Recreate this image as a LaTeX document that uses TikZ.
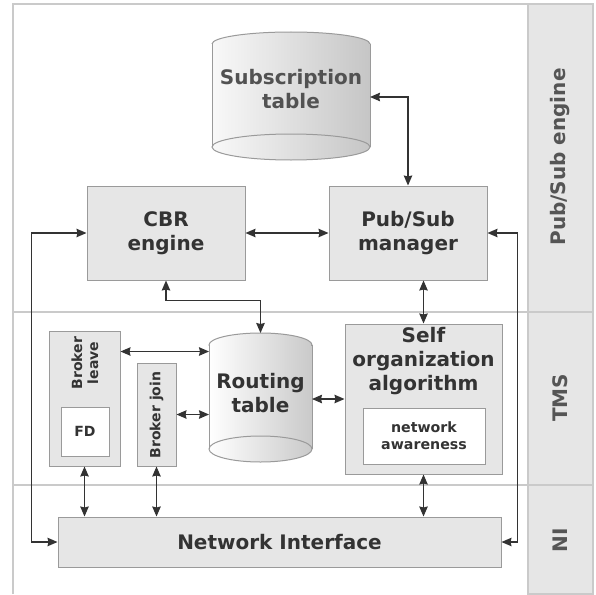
\documentclass[tikz,border=0pt]{standalone}
\usepackage{fontspec}
\setmainfont{DejaVu Sans}
\usetikzlibrary{arrows.meta,calc}
\definecolor{boxfill}{HTML}{E6E6E6}
\definecolor{boxline}{HTML}{9A9A9A}
\definecolor{txt}{HTML}{333333}
\definecolor{paneltxt}{HTML}{555555}
\definecolor{frameline}{HTML}{CACACA}
\definecolor{arrowc}{HTML}{333333}
\newcommand{\bigfnt}{\fontsize{20}{24}\selectfont\bfseries}
\newcommand{\smallfnt}{\fontsize{14}{16}\selectfont\bfseries}
\newcommand{\tinyfnt}{\fontsize{14.2}{17}\selectfont\bfseries}
\begin{document}
\begin{tikzpicture}[x=1pt,y=-1pt,
  box/.style={draw=boxline, fill=boxfill, line width=1pt, inner sep=0pt, text=txt, font=\bigfnt, align=center},
  wbox/.style={draw=boxline, fill=white, line width=1pt, inner sep=0pt, text=txt, align=center},
  lbl/.style={text=txt, align=center, inner sep=0pt},
  panellbl/.style={rotate=90, text=paneltxt, font=\bigfnt, inner sep=0pt},
  area/.style={inner sep=0pt, outer sep=0pt},
  conn/.style={draw=arrowc, line width=1.2pt, {Stealth[length=10pt,width=8.5pt,inset=1pt]}-{Stealth[length=10pt,width=8.5pt,inset=1pt]}},
  cyl/.style={draw=boxline, line width=1pt},
  frm/.style={draw=frameline, line width=1.2pt}
]
\useasboundingbox (0,0) rectangle (596,594);
\fill[white] (0,0) rectangle (596,594);

% frame and side panel
\draw[frm] (13,594) -- (13,4) -- (528,4);
\draw[frm, fill=boxfill] (528,4) rectangle (593,594);
\draw[frm] (13,312) -- (593,312);
\draw[frm] (13,485) -- (593,485);
\node[panellbl] (lpse) at (560,157) {Pub/Sub engine};
\node[panellbl] (ltms) at (560,398) {TMS};
\node[panellbl] (lni) at (560,540) {NI};

% Subscription table cylinder
\shade[left color=white!95!gray, right color=gray!45] (212,44) rectangle (370,147);
\shade[left color=white!95!gray, right color=gray!45] (291,44) ellipse [x radius=79, y radius=12];
\shade[left color=white!95!gray, right color=gray!45] (291,147) ellipse [x radius=79, y radius=13];
\begin{scope}
  \clip (205,44) rectangle (377,25);
  \draw[cyl] (291,44) ellipse [x radius=79, y radius=12];
\end{scope}
\draw[cyl] (212,44) -- (212,147);
\draw[cyl] (370,44) -- (370,147);
\draw[cyl] (291,147) ellipse [x radius=79, y radius=13];
\node[area, minimum width=158pt, minimum height=128pt] (subt) at (291,97) {};
\node[lbl, font=\bigfnt, text=txt!85!white] (subtxt) at (291,89) {Subscription\\table};

% Routing table cylinder
\shade[left color=white, right color=gray!42] (209,345) rectangle (312,449);
\shade[left color=white, right color=gray!42] (260.5,345) ellipse [x radius=51.5, y radius=12];
\shade[left color=white, right color=gray!42] (260.5,449) ellipse [x radius=51.5, y radius=13];
\begin{scope}
  \clip (202,345) rectangle (319,326);
  \draw[cyl] (260.5,345) ellipse [x radius=51.5, y radius=12];
\end{scope}
\draw[cyl] (209,345) -- (209,449);
\draw[cyl] (312,345) -- (312,449);
\draw[cyl] (260.5,449) ellipse [x radius=51.5, y radius=13];
\node[area, minimum width=103pt, minimum height=129pt] (rt) at (260.5,397.5) {};
\node[lbl, font=\bigfnt] (rttxt) at (260.5,393) {Routing\\table};

% boxes
\node[box, minimum width=158pt, minimum height=94pt] (cbr) at (166,233) {CBR\\engine};
\node[box, minimum width=158pt, minimum height=94pt] (psm) at (408,233) {Pub/Sub\\manager};
\node[box, minimum width=157pt, minimum height=150pt] (so) at (423.5,399) {};
\node[lbl, font=\bigfnt] (sotxt) at (423.5,361) {Self\\organization\\algorithm};
\node[wbox, font=\tinyfnt, minimum width=122pt, minimum height=56pt] (na) at (424,436) {network\\awareness};
\node[box, minimum width=71pt, minimum height=135pt] (bl) at (84.5,398.5) {};
\node[lbl, rotate=90, font=\smallfnt] (bltxt) at (85,363) {Broker\\leave};
\node[wbox, font=\smallfnt, minimum width=48pt, minimum height=49pt] (fd) at (85,431.5) {FD};
\node[box, minimum width=39pt, minimum height=103pt] (bj) at (156.5,414.5) {};
\node[lbl, rotate=90, font=\smallfnt] (bjtxt) at (156.5,415) {Broker join};
\node[box, minimum width=443pt, minimum height=50pt] (ni) at (279.5,542) {Network Interface};

% connectors
\coordinate (blA) at ([yshift=-21pt]bl.north east);
\path[conn] (cbr.east) -- (psm.west);
\path[conn] (subt.east) -| (psm.north);
\path[conn] (cbr.south) -- ++(0,20) -| (rt.north);
\path[conn] (so.north) -- (so.north |- psm.south);
\path[conn] (cbr.west) -- ++(-55,0) |- (ni.west);
\path[conn] (psm.east) -- ++(30,0) |- (ni.east);
\path[conn] (blA) -- (blA -| rt.west);
\path[conn] (bj.east) -- (bj.east -| rt.west);
\path[conn] (so.west -| rt.east) -- (so.west);
\path[conn] (bl.south) -- (bl.south |- ni.north);
\path[conn] (bj.south) -- (bj.south |- ni.north);
\path[conn] (so.south) -- (so.south |- ni.north);
\end{tikzpicture}
\end{document}
